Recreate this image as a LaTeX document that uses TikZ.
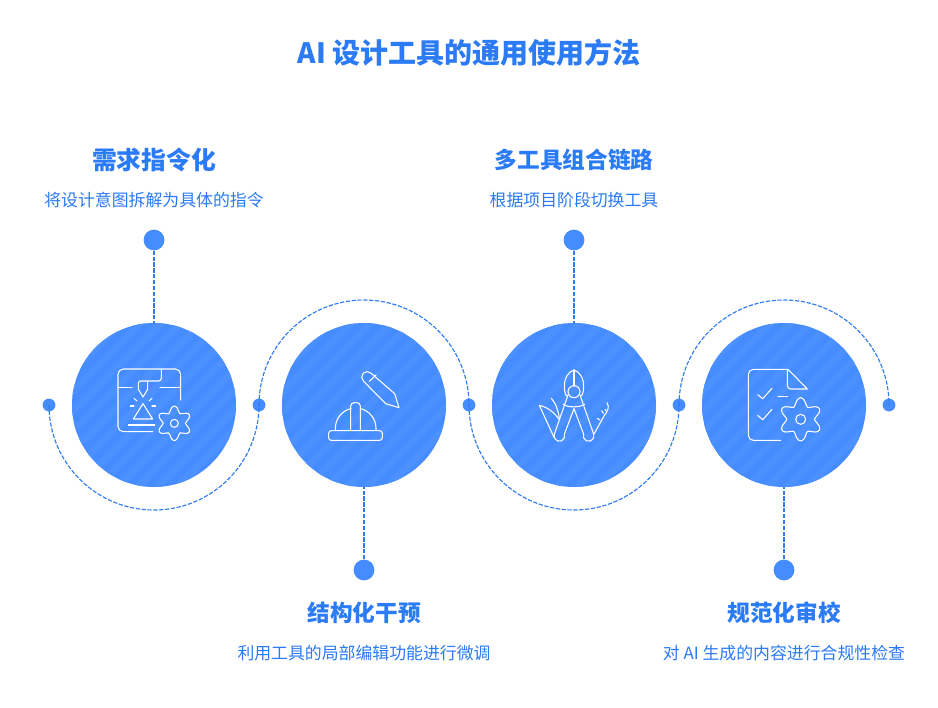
\documentclass[tikz,border=0pt]{standalone}
\usepackage{fontspec}
\setmainfont{Noto Sans CJK SC}
\definecolor{blueA}{HTML}{448CFF}
\definecolor{blueB}{HTML}{4C91FF}
\definecolor{txtA}{HTML}{2B7BF6}
\definecolor{lineA}{HTML}{2F7BF0}
\tikzset{
 big/.style={circle,fill=blueA,minimum size=123pt,inner sep=0pt},
 pin/.style={circle,fill=blueA,minimum size=15.6pt,inner sep=0pt},
 tip/.style={circle,fill=blueA,minimum size=9.6pt,inner sep=0pt},
 dashline/.style={draw=lineA,line width=.85pt,dash pattern=on 3.2pt off 1.2pt},
 titletxt/.style={font=\fontsize{21pt}{25pt}\selectfont\bfseries,text=txtA,inner sep=0pt},
 headtxt/.style={font=\fontsize{17pt}{21pt}\selectfont\bfseries,text=txtA,inner sep=0pt},
 headbig/.style={font=\fontsize{18.6pt}{22pt}\selectfont\bfseries,text=txtA,inner sep=0pt},
 subtxt/.style={font=\fontsize{12.65pt}{15pt}\selectfont,text=txtA,inner sep=0pt},
 ico/.style={draw=white,line width=.8pt,line cap=round,line join=round},
}
\newcommand{\stripes}[1]{%
 \begin{scope}
 \clip (#1) circle (82);
 \foreach \k in {-9,...,9}{
  \path[fill=blueB,shift={(#1)}] ({\k*20-100},100) -- ({\k*20-90},100) -- ({\k*20+110},-100) -- ({\k*20+100},-100) -- cycle;
 }
 \end{scope}}
\newcommand{\gear}[4]{%
 \draw[ico,shift={(#1,#2)}] plot[smooth cycle,domain=0:350,samples=36,variable=\t] ({\t}:{#3*(.82+.18*cos(6*(\t-90)))});
 \draw[ico] (#1,#2) circle (#4);}
\begin{document}
\begin{tikzpicture}[x=.75pt,y=-.75pt]
\useasboundingbox (0,0) rectangle (938,707);
\fill[white] (0,0) rectangle (938,707);
\coordinate (c1) at (154,405);\coordinate (c2) at (364,405);\coordinate (c3) at (574,405);\coordinate (c4) at (784,405);
\node[tip] (t0) at (49,405) {};
\node[tip] (t1) at (259,405) {};
\node[tip] (t2) at (469,405) {};
\node[tip] (t3) at (679,405) {};
\node[tip] (t4) at (889,405) {};
\draw[dashline] (t0.center) arc[start angle=180,end angle=0,radius=105];
\draw[dashline] (t1.center) arc[start angle=180,end angle=360,radius=105];
\draw[dashline] (t2.center) arc[start angle=180,end angle=0,radius=105];
\draw[dashline] (t3.center) arc[start angle=180,end angle=360,radius=105];
\node[big] (n1) at (c1) {};
\node[big] (n2) at (c2) {};
\node[big] (n3) at (c3) {};
\node[big] (n4) at (c4) {};
\stripes{c1}\stripes{c2}\stripes{c3}\stripes{c4}
\node[pin] (p1) at (154,240) {};
\node[pin] (p2) at (364,570) {};
\node[pin] (p3) at (574,240) {};
\node[pin] (p4) at (784,570) {};
\draw[dashline] (p1) -- (n1);
\draw[dashline] (p2) -- (n2);
\draw[dashline] (p3) -- (n3);
\draw[dashline] (p4) -- (n4);
% icon 1 (printer) in zoom units
\begin{scope}[shift={(60,310)},x=.25pt,y=-.25pt]
\draw[ico] (278,365) -- (190,365) arc[start angle=90,end angle=180,radius=16] -- (174,193) arc[start angle=180,end angle=270,radius=16] -- (346,177) arc[start angle=270,end angle=360,radius=16] -- (362,270);
\draw[ico] (174,232) -- (216,232);
\draw[ico] (300,232) -- (360,232);
\draw[ico] (304,178) -- (304,205) arc[start angle=0,end angle=90,radius=8] -- (242,213) arc[start angle=270,end angle=180,radius=7] -- (235,238) -- (249,261) -- (263,238) -- (263,213);
\draw[ico] (249,281) -- (278,327) -- (220,327) -- cycle;
\draw[ico] (205,345) -- (284,345);
\draw[ico] (222,265) -- (231,273);
\draw[ico] (276,265) -- (267,273);
\draw[ico] (211,288) -- (222,288);
\draw[ico] (276,288) -- (287,288);
\gear{343}{340}{52}{12}
\end{scope}
% icon 2 (helmet + pencil)
\begin{scope}[shift={(270,310)},x=.25pt,y=-.25pt]
\draw[ico,rounded corners=2pt] (176,362) rectangle (337,391);
\draw[ico] (196,362) -- (196,355) arc[start angle=180,end angle=257,radius=61];
\draw[ico] (318,362) -- (318,355) arc[start angle=0,end angle=-77,radius=61];
\draw[ico] (242,362) -- (242,288) arc[start angle=180,end angle=270,radius=10] -- (261,278) arc[start angle=270,end angle=360,radius=10] -- (271,362);
\draw[ico] (280,213) arc[start angle=135,end angle=315,radius=16.5] -- (374,251) -- (387,293) -- (347,281) -- cycle;
\draw[ico] (298,214) -- (318,195);
\end{scope}
% icon 3 (multi-tool)
\begin{scope}[shift={(480,310)},x=.25pt,y=-.25pt]
\draw[ico] (282,180) .. controls (262,185) and (252,210) .. (253,232) .. controls (254,250) and (258,258) .. (262,258);
\draw[ico] (282,180) .. controls (302,185) and (312,210) .. (311,232) .. controls (310,250) and (306,258) .. (302,258);
\draw[ico] (282,180) -- (282,228);
\draw[ico] (282,245) circle (18);
\draw[ico] (250,283) .. controls (262,293) and (300,293) .. (314,283);
\draw[ico] (264,255) -- (223,372.5) arc[start angle=200,end angle=-20,radius=16] -- (282,296);
\draw[ico] (300,255) -- (341,372.5) arc[start angle=-20,end angle=200,radius=16] -- (282,296);
\draw[ico] (222,382) -- (178,286) .. controls (205,292) and (225,310) .. (236,327);
\draw[ico] (214,265) .. controls (228,280) and (236,305) .. (238,327);
\draw[ico] (342,372) -- (372,318) .. controls (382,305) and (390,292) .. (381,278);
\draw[ico] (352,325) -- (360,330);
\draw[ico] (365,302) -- (370,310);
\draw[ico] (375,298) -- (379,303);
\end{scope}
% icon 4 (document)
\begin{scope}[shift={(690,310)},x=.25pt,y=-.25pt]
\draw[ico] (272,391) -- (190,391) arc[start angle=90,end angle=180,radius=15] -- (175,193) arc[start angle=180,end angle=270,radius=15] -- (294,178) -- (352,237) -- (302,237) arc[start angle=90,end angle=180,radius=10] -- (292,178);
\draw[ico] (203,254) -- (218,266) -- (246,235);
\draw[ico] (203,316) -- (218,329) -- (246,298);
\draw[ico] (264,260) -- (293,260);
\gear{332}{328}{65}{15}
\end{scope}
% text
\node[titletxt] (title) at (469,53) {AI 设计工具的通用使用方法};
\node[headbig] (h1) at (154,160) {需求指令化};
\node[subtxt] (s1) at (154,200) {将设计意图拆解为具体的指令};
\node[headtxt] (h3) at (574,160) {多工具组合链路};
\node[subtxt] (s3) at (574,200) {根据项目阶段切换工具};
\node[headtxt] (h2) at (364,613) {结构化干预};
\node[subtxt] (s2) at (364,653) {利用工具的局部编辑功能进行微调};
\node[headtxt] (h4) at (784,613) {规范化审校};
\node[subtxt] (s4) at (784,653) {对 AI 生成的内容进行合规性检查};
\end{tikzpicture}
\end{document}
